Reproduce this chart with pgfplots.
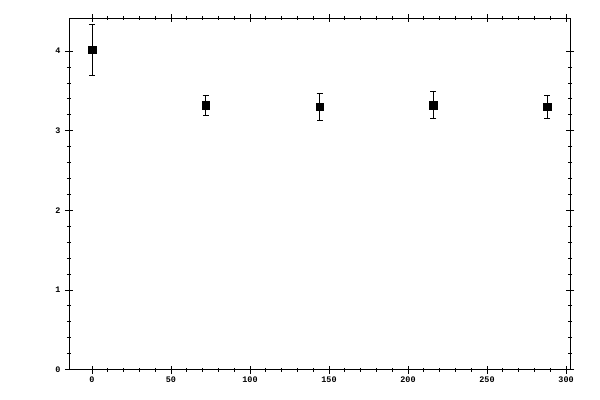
\documentclass[border=0pt]{standalone}
\usepackage{fontspec}
\setmonofont{Liberation Mono}
\usepackage{pgfplots}
\pgfplotsset{compat=1.18}
\begin{document}
\begin{tikzpicture}
\useasboundingbox (-69bp,-30bp) rectangle (531bp,369.5bp);
\begin{axis}[
    at={(0,0)}, anchor=south west,
    scale only axis,
    width=501bp, height=351bp,
    xmin=-14.5, xmax=302.5,
    ymin=0, ymax=4.41,
    xtick={0,50,...,300},
    ytick={0,1,2,3,4},
    minor x tick num=4,
    minor y tick num=4,
    tick align=center,
    major tick length=8bp,
    minor tick length=4bp,
    axis line style={line width=1pt},
    every tick/.style={black, line width=0.8pt},
    tick label style={font=\ttfamily\bfseries\fontsize{8.5}{9}\selectfont},
    /pgf/number format/assume math mode=true,
    xticklabel style={yshift=0bp},
    yticklabel style={xshift=-1bp},
]
\addplot[only marks, mark=square*, mark size=3.8bp, black,
    error bars/.cd, y dir=both, y explicit,
    error bar style={line width=0.8pt},
    error mark options={rotate=90, mark size=3bp, line width=0.8pt}]
  coordinates {
    (0,4.02)   +- (0,0.32)
    (72,3.32)  +- (0,0.13)
    (144,3.30) +- (0,0.17)
    (216,3.32) +- (0,0.17)
    (288,3.30) +- (0,0.15)
  };
\end{axis}
\end{tikzpicture}
\end{document}
